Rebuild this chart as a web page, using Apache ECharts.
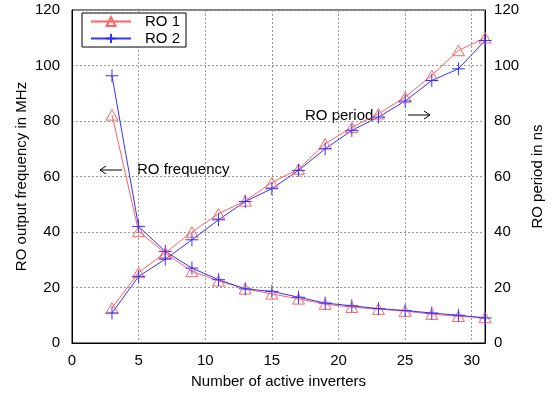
<!DOCTYPE html>
<html>
<head>
<meta charset="utf-8">
<script src="https://cdn.jsdelivr.net/npm/echarts@6/dist/echarts.min.js"></script>
<style>
  html, body { margin: 0; padding: 0; background: #fff; }
  #chart { width: 553px; height: 394px; }
</style>
</head>
<body>
<div id="chart"></div>
<script>
// number of active inverters
const inverters = [3, 5, 7, 9, 11, 13, 15, 17, 19, 21, 23, 25, 27, 29, 31]

// RO output frequency (MHz)
const freqRo1 = [82.2, 40.2, 32.4, 25.8, 22.4, 19.5, 17.7, 15.9, 14.0, 12.9, 12.2, 11.5, 10.4, 9.6, 9.2]
const freqRo2 = [96.3, 42.0, 33.0, 27.0, 22.8, 19.5, 18.6, 16.5, 14.4, 13.4, 12.4, 11.7, 10.8, 10.0, 9.0]

// RO period (ns)
const periodRo1 = [12.6, 25.4, 32.5, 40.0, 46.6, 51.2, 57.8, 62.7, 71.8, 77.7, 82.6, 88.6, 96.4, 105.4, 110.0]
const periodRo2 = [10.8, 24.0, 30.2, 37.2, 44.4, 51.0, 55.6, 62.2, 70.0, 76.6, 81.4, 87.2, 94.6, 98.8, 109.0]

const RED = '#ff6262'
const BLUE = '#3333ff'
const FONT = 'Liberation Sans'

const plus = 'path://M0,5L10,5M5,0L5,10'
const triangle = 'path://M5,0L10,8.7L0,8.7Z'

const pairs = (xs, ys) => xs.map((x, i) => [x, ys[i]])

const chart = echarts.init(document.getElementById('chart'))

const axisText = { color: '#000', fontFamily: FONT, fontSize: 15 }
const nameText = { color: '#000', fontFamily: FONT, fontSize: 15 }

function series(name, data, yAxisIndex, color, marker) {
  const tri = marker === 'tri'
  return {
    name: name,
    type: 'line',
    yAxisIndex: yAxisIndex,
    data: data,
    symbol: tri ? triangle : plus,
    symbolSize: tri ? 12 : 13,
    symbolKeepAspect: true,
    showAllSymbol: true,
    lineStyle: { color: color, width: 1 },
    itemStyle: { color: tri ? 'rgba(255,255,255,0)' : color, borderColor: color, borderWidth: 1 },
    emphasis: { disabled: true },
    animation: false
  }
}

// simple arrow annotation drawn with graphic lines
function arrow(x1, x2, y) {
  const dir = x2 > x1 ? -1 : 1
  return [
    { type: 'line', shape: { x1: x1, y1: y, x2: x2, y2: y }, style: { stroke: '#000', lineWidth: 1 } },
    { type: 'polyline', shape: { points: [[x2 + dir * 6, y - 4], [x2, y], [x2 + dir * 6, y + 4]] },
      style: { stroke: '#000', lineWidth: 1, fill: null } }
  ]
}

chart.setOption({
  backgroundColor: '#fff',
  animation: false,
  textStyle: { fontFamily: FONT },
  grid: {
    left: 72, right: 58, top: 10, bottom: 51,
    show: true, borderColor: '#000', borderWidth: 1
  },
  legend: {
    data: ['RO 1', 'RO 2'],
    left: 82, top: 13,
    orient: 'vertical',
    itemWidth: 40, itemHeight: 11, itemGap: 2,
    padding: [1, 6, 1, 8],
    borderColor: '#000', borderWidth: 1, backgroundColor: '#fff',
    textStyle: { color: '#000', fontFamily: FONT, fontSize: 15, lineHeight: 13, padding: [0, 0, 0, 9] }
  },
  xAxis: {
    type: 'value',
    min: 0, max: 31, interval: 5,
    name: 'Number of active inverters',
    nameLocation: 'middle', nameGap: 31,
    nameTextStyle: nameText,
    axisLine: { lineStyle: { color: '#000' } },
    axisTick: { show: false },
    axisLabel: Object.assign({ margin: 10, formatter: v => (v % 5 === 0 ? String(v) : '') }, axisText),
    splitLine: { lineStyle: { color: '#999', type: [2, 2] } }
  },
  yAxis: [
    {
      type: 'value',
      min: 0, max: 120, interval: 20,
      name: 'RO output frequency in MHz',
      nameLocation: 'middle', nameGap: 43, nameRotate: 90,
      nameMoveOverlap: false,
      nameTextStyle: nameText,
      axisLine: { show: true, lineStyle: { color: '#000' } },
      axisTick: { show: false },
      axisLabel: Object.assign({ margin: 12 }, axisText),
      splitLine: { lineStyle: { color: '#999', type: [2, 2] } }
    },
    {
      type: 'value',
      min: 0, max: 120, interval: 20,
      position: 'right',
      name: 'RO period in ns',
      nameLocation: 'middle', nameGap: 43, nameRotate: 90,
      nameTextStyle: nameText,
      axisLine: { show: true, lineStyle: { color: '#000' } },
      axisTick: { show: false },
      axisLabel: Object.assign({ margin: 9 }, axisText),
      splitLine: { show: false }
    }
  ],
  graphic: [
    ...arrow(122, 100, 170),
    { type: 'text', x: 137, y: 170, style: { text: 'RO frequency', fill: '#000', font: '15px "Liberation Sans"', verticalAlign: 'middle' } },
    { type: 'text', x: 305, y: 116, style: { text: 'RO period', fill: '#000', font: '15px "Liberation Sans"', verticalAlign: 'middle' } },
    ...arrow(408, 430, 115)
  ],
  series: [
    series('RO 1', pairs(inverters, freqRo1), 0, RED, 'tri'),
    series('RO 2', pairs(inverters, freqRo2), 0, BLUE, 'plus'),
    series('RO 1', pairs(inverters, periodRo1), 1, RED, 'tri'),
    series('RO 2', pairs(inverters, periodRo2), 1, BLUE, 'plus')
  ]
})
</script>
</body>
</html>
